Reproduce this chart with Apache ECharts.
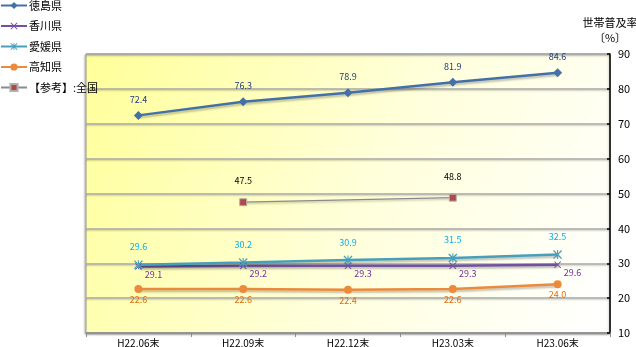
<!DOCTYPE html>
<html>
<head>
<meta charset="utf-8">
<style>
  html, body { margin: 0; padding: 0; background: #fff; }
  #chart { width: 636px; height: 347px; }
</style>
<script src="https://cdn.jsdelivr.net/npm/echarts@6/dist/echarts.min.js"></script>
</head>
<body>
<div id="chart"></div>
<script>
// Periods (end of month)
const categories = ['H22.06末', 'H22.09末', 'H22.12末', 'H23.03末', 'H23.06末'];

// Household penetration rate (%) by prefecture
const tokushima = [72.4, 76.3, 78.9, 81.9, 84.6];
const kagawa    = [29.1, 29.2, 29.3, 29.3, 29.6];
const ehime     = [29.6, 30.2, 30.9, 31.5, 32.5];
const kochi     = [22.6, 22.6, 22.4, 22.6, 24.0];
const national  = [null, 47.5, null, 48.8, null];

// Right-hand value axis
const yTicks = [10, 20, 30, 40, 50, 60, 70, 80, 90];
const yAxisTitle = '世帯普及率\n〔%〕';

const FONT = '"Noto Sans CJK JP", "Noto Sans", sans-serif';

const crossPath = 'path://M0,1L1,0L5,4L9,0L10,1L6,5L10,9L9,10L5,6L1,10L0,9L4,5Z';
const starPath = 'path://M0,1L1,0L5,4L9,0L10,1L6,5L10,9L9,10L5,6L1,10L0,9L4,5Z M4.4,0L5.6,0L5.6,10L4.4,10Z';

function makeSeries(name, data, lineColor, labelColor, symbol, symbolSize, labelPos, labelOffset, extra) {
  return Object.assign({
    name: name,
    type: 'line',
    data: data,
    symbol: symbol,
    symbolSize: symbolSize,
    showAllSymbol: true,
    connectNulls: true,
    lineStyle: {
      color: lineColor, width: 2.5,
      shadowColor: 'rgba(0,0,0,0.25)', shadowBlur: 2, shadowOffsetX: 1, shadowOffsetY: 2
    },
    itemStyle: { color: lineColor },
    label: {
      show: true,
      position: labelPos,
      offset: labelOffset,
      color: labelColor,
      fontFamily: FONT,
      fontSize: 9,
      distance: 6,
      formatter: function (p) { return Number(p.value).toFixed(1); }
    },
    emphasis: { disabled: true },
    animation: false
  }, extra || {});
}

const chart = echarts.init(document.getElementById('chart'), null, { renderer: 'canvas' });

chart.setOption({
  animation: false,
  backgroundColor: '#ffffff',
  textStyle: { fontFamily: FONT },
  title: {
    text: yAxisTitle,
    left: 610,
    top: 15,
    textAlign: 'center',
    padding: 0,
    textStyle: { color: '#000', fontSize: 11, fontWeight: 'normal', fontFamily: FONT, lineHeight: 15 }
  },
  legend: {
    orient: 'vertical',
    left: 0,
    top: 0,
    padding: 0,
    itemWidth: 26,
    itemHeight: 9,
    itemGap: 9.5,
    textStyle: { fontSize: 11, color: '#000', fontFamily: FONT, padding: [0, 0, 0, -3] },
    data: ['徳島県', '香川県', '愛媛県', '高知県', '【参考】:全国']
  },
  grid: {
    left: 86, right: 26, top: 54, bottom: 14,
    outerBoundsMode: 'none',
    show: true,
    borderColor: '#a0a0a0',
    borderWidth: 1,
    shadowColor: 'rgba(0,0,0,0.25)',
    shadowBlur: 2,
    shadowOffsetX: -1,
    shadowOffsetY: 1,
    backgroundColor: {
      type: 'linear', x: 0, y: 0, x2: 1, y2: 0.9,
      colorStops: [
        { offset: 0, color: '#ffff99' },
        { offset: 0.55, color: '#ffffdc' },
        { offset: 1, color: '#ffffff' }
      ]
    }
  },
  xAxis: {
    type: 'category',
    data: categories,
    boundaryGap: true,
    axisLine: { lineStyle: { color: '#8c8c8c', width: 1.5 } },
    axisTick: { show: true, length: 4, lineStyle: { color: '#8c8c8c' } },
    axisLabel: { color: '#000', fontSize: 10, fontFamily: FONT, margin: 5 },
    splitLine: { show: false }
  },
  yAxis: {
    type: 'value',
    position: 'right',
    min: yTicks[0],
    max: yTicks[yTicks.length - 1],
    interval: 10,
    axisLine: { show: true, lineStyle: { color: '#000', width: 1.5 } },
    axisTick: { show: true, inside: true, length: 3, lineStyle: { color: '#000', width: 1.5 } },
    axisLabel: { color: '#000', fontSize: 11, fontFamily: FONT, margin: 8 },
    splitLine: {
      show: true,
      lineStyle: {
        color: '#a6a6a6', width: 1.5,
        shadowColor: 'rgba(0,0,0,0.15)', shadowOffsetY: 1.5, shadowBlur: 1
      }
    }
  },
  series: [
    makeSeries('徳島県', tokushima, '#4470a8', '#1f3d7a', 'diamond', 9, 'top', [0, -1]),
    makeSeries('香川県', kagawa, '#7152a0', '#7030a0', crossPath, 7, 'bottom', [15, -6]),
    makeSeries('愛媛県', ehime, '#46a0bb', '#00b0f0', starPath, 9, 'top', [0, -3]),
    makeSeries('高知県', kochi, '#ec8a3c', '#e46c0a', 'circle', 8, 'bottom', [0, -4]),
    makeSeries('【参考】:全国', national, '#8a8a8a', '#000000', 'rect', 7, 'top', [0, -7], {
      lineStyle: {
        color: '#8a8a8a', width: 1.2,
        shadowColor: 'rgba(0,0,0,0.25)', shadowBlur: 2, shadowOffsetX: 1, shadowOffsetY: 1.5
      },
      itemStyle: { color: '#b04848', borderColor: '#b0b0b0', borderWidth: 1 }
    })
  ]
});
</script>
</body>
</html>
